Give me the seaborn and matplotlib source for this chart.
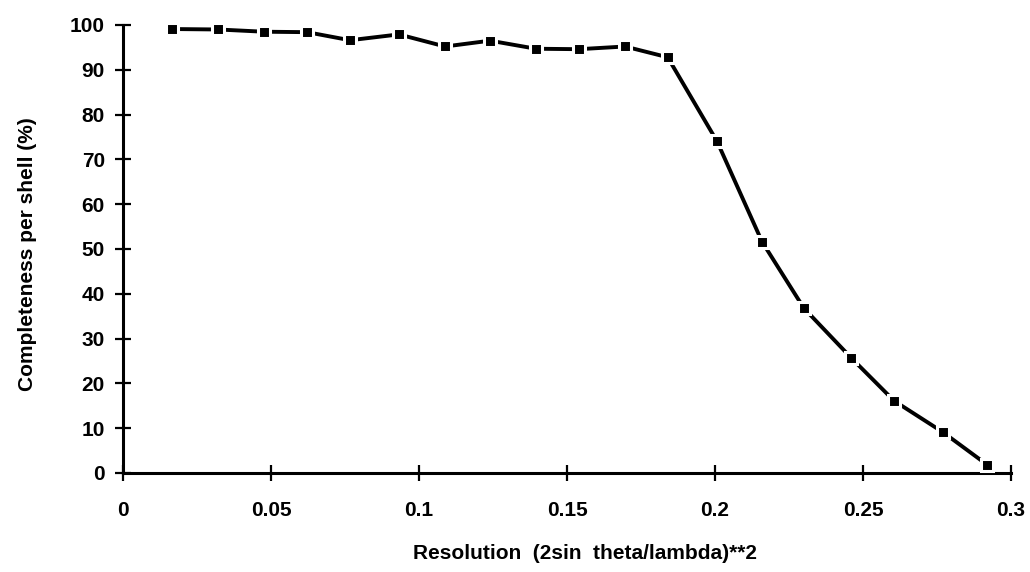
import matplotlib
matplotlib.use("Agg")
import matplotlib.pyplot as plt
import seaborn as sns
import pandas as pd

# Data
resolution = [0.0166, 0.0321, 0.0476, 0.0622, 0.0767, 0.0932, 0.1088, 0.1240,
              0.1395, 0.1540, 0.1696, 0.1840, 0.2007, 0.2159, 0.2300, 0.2460,
              0.2605, 0.2770, 0.2920]
completeness = [99.1, 99.0, 98.5, 98.4, 96.6, 97.9, 95.2, 96.5,
                94.7, 94.6, 95.2, 92.8, 74.0, 51.6, 36.8, 25.7,
                16.1, 9.1, 1.8]
x_ticks = [0, 0.05, 0.1, 0.15, 0.2, 0.25, 0.3]
x_ticklabels = ["0", "0.05", "0.1", "0.15", "0.2", "0.25", "0.3"]
y_ticks = [0, 10, 20, 30, 40, 50, 60, 70, 80, 90, 100]
y_ticklabels = ["0", "10", "20", "30", "40", "50", "60", "70", "80", "90", "100"]
x_label = "Resolution  (2sin  theta/lambda)**2"
y_label = "Completeness per shell (%)"

sns.set_theme(style="ticks")
plt.rcParams["font.family"] = ["Liberation Sans", "DejaVu Sans"]
plt.rcParams["text.color"] = "black"
plt.rcParams["axes.labelcolor"] = "black"

df = pd.DataFrame({"res": resolution, "comp": completeness})

fig = plt.figure(figsize=(10.30, 5.72), dpi=100)
ax = fig.add_axes([0.1194, 0.1731, 0.8622, 0.7832])

sns.lineplot(data=df, x="res", y="comp", ax=ax, color="black", linewidth=2.8,
             marker="s", markersize=8.5, markerfacecolor="black",
             markeredgecolor="white", markeredgewidth=2.2)

ax.set_xlim(0, 0.3)
ax.set_ylim(0, 100)
ax.set_xticks(x_ticks)
ax.set_xticklabels(x_ticklabels)
ax.set_yticks(y_ticks)
ax.set_yticklabels(y_ticklabels)

for s in ["top", "right"]:
    ax.spines[s].set_visible(False)
for s in ["left", "bottom"]:
    ax.spines[s].set_linewidth(2.2)
    ax.spines[s].set_color("black")
    ax.spines[s].set_zorder(1)
for l in ax.lines:
    l.set_clip_on(False)

ax.tick_params(axis="both", direction="inout", length=12, width=1.6, color="black",
               labelsize=15, labelcolor="black")
ax.tick_params(axis="x", pad=14)
ax.tick_params(axis="y", pad=7)
for lab in ax.get_xticklabels() + ax.get_yticklabels():
    lab.set_fontweight("bold")

ax.set_xlabel(x_label, fontsize=15, fontweight="bold", color="black")
ax.set_ylabel(y_label, fontsize=15, fontweight="bold", color="black")
ax.xaxis.set_label_coords(0.52, -0.179)
ax.xaxis.label.set_va("center")
ax.yaxis.set_label_coords(-0.108, 0.489)
ax.yaxis.label.set_va("center")

ax.grid(False)
fig.savefig("out.png", dpi=100, facecolor="white")
